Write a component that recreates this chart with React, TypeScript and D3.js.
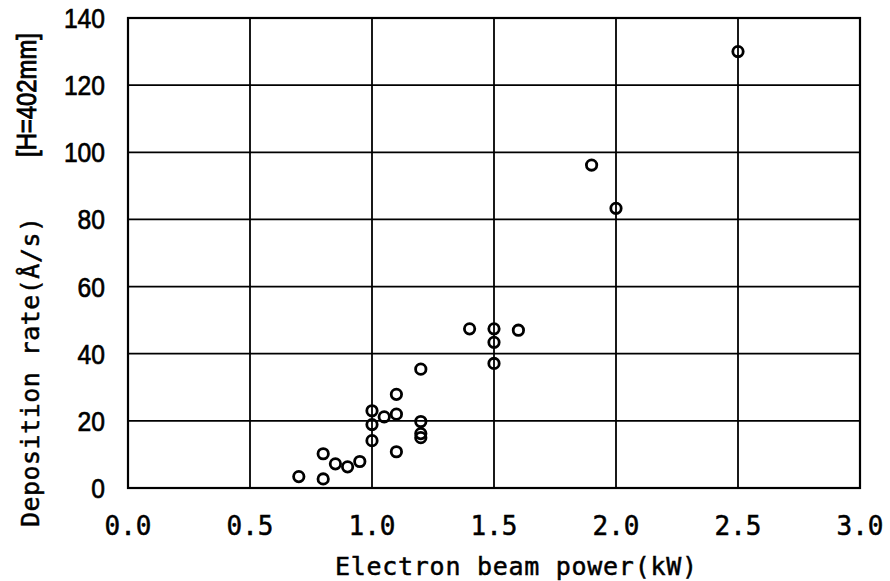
import React from "react";
import * as d3 from "d3";

const power = [0.7, 0.8, 0.8, 0.85, 0.9, 0.95, 1.0, 1.0, 1.0, 1.05, 1.1, 1.1, 1.1, 1.2, 1.2, 1.2, 1.2, 1.4, 1.5, 1.5, 1.5, 1.6, 1.9, 2.0, 2.5];
const rate = [3.4, 2.7, 10.2, 7.2, 6.3, 7.9, 14.1, 18.9, 23.0, 21.2, 10.8, 22.0, 27.9, 15.0, 16.2, 19.8, 35.4, 47.4, 37.1, 43.4, 47.4, 47.0, 96.2, 83.3, 130];
const xTicks = [0, 0.5, 1.0, 1.5, 2.0, 2.5, 3.0];
const yTicks = [0, 20, 40, 60, 80, 100, 120, 140];

const W = 890;
const H = 581;
const L = 128, R = 860, T = 18, B = 488;

export default function App() {
  const x = d3.scaleLinear().domain([0, 3]).range([L, R]);
  const y = d3.scaleLinear().domain([0, 140]).range([B, T]);
  const pts = power.map((p, i) => ({ p, r: rate[i] }));
  return (
    <svg width={W} height={H} style={{ position: "absolute", left: 0, top: 0, background: "#fff" }}>
      <rect x={0} y={0} width={W} height={H} fill="#fff" />
      {xTicks.map((t) => (
        <line key={"gx" + t} x1={x(t)} x2={x(t)} y1={T} y2={B} stroke="#000" strokeWidth={1.8} />
      ))}
      {yTicks.map((t) => (
        <line key={"gy" + t} x1={L} x2={R} y1={y(t)} y2={y(t)} stroke="#000" strokeWidth={1.8} />
      ))}
      <rect x={L} y={T} width={R - L} height={B - T} fill="none" stroke="#000" strokeWidth={2.2} />
      {yTicks.map((t) => (
        <text
          key={"ty" + t}
          x={0}
          y={0}
          transform={`translate(105,${y(t) + 10}) scale(0.88,1)`}
          textAnchor="end"
          fontFamily="Liberation Sans, Arial, sans-serif"
          fontSize={28}
          fill="#000"
          stroke="#000"
          strokeWidth={0.7}
        >
          {t}
        </text>
      ))}
      {xTicks.map((t) => (
        <text
          key={"tx" + t}
          x={x(t)}
          y={535}
          textAnchor="middle"
          fontFamily="DejaVu Sans Mono, monospace"
          fontSize={26}
          fill="#000"
          stroke="#000"
          strokeWidth={0.5}
        >
          {t.toFixed(1)}
        </text>
      ))}
      <text
        x={516}
        y={575}
        textAnchor="middle"
        fontFamily="DejaVu Sans Mono, monospace"
        fontSize={25}
        textLength={362}
        lengthAdjust="spacing"
        fill="#000"
        stroke="#000"
        strokeWidth={0.5}
      >
        Electron beam power(kW)
      </text>
      <text
        transform="translate(39,372) rotate(-90)"
        textAnchor="middle"
        fontFamily="DejaVu Sans Mono, monospace"
        fontSize={25}
        textLength={310}
        lengthAdjust="spacing"
        fill="#000"
        stroke="#000"
        strokeWidth={0.5}
      >
        Deposition rate(Å/s)
      </text>
      <text
        transform="translate(36,95) rotate(-90)"
        textAnchor="middle"
        fontFamily="Liberation Sans, Arial, sans-serif"
        fontSize={27}
        textLength={124}
        lengthAdjust="spacingAndGlyphs"
        fill="#000"
        stroke="#000"
        strokeWidth={0.9}
      >
        [H=402mm]
      </text>
      {pts.map((d, i) => (
        <circle key={i} cx={x(d.p)} cy={y(d.r)} r={5.2} fill="none" stroke="#000" strokeWidth={2.8} />
      ))}
    </svg>
  );
}
